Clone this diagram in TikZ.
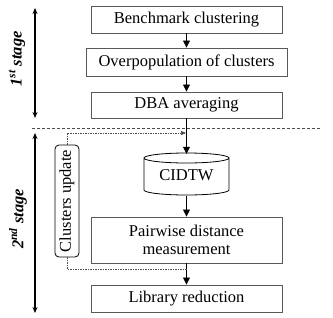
\documentclass[tikz,border=0pt]{standalone}
\usepackage{fontspec}
\setmainfont{Liberation Serif}
\usetikzlibrary{arrows.meta}
\begin{document}
\begin{tikzpicture}[x=1pt,y=-1pt,
  font=\fontsize{16.5}{18}\selectfont,
  procbox/.style={draw=black!65,line width=0.9pt,minimum width=191pt,minimum height=27pt,inner sep=0pt,align=center},
  flow/.style={line width=0.8pt,-{Triangle[length=7pt,width=7pt]}},
  stagearrow/.style={line width=1.4pt,{Stealth[length=6pt,width=5pt]}-{Stealth[length=6pt,width=5pt]}},
  loopline/.style={draw=black!70,line width=0.5pt,dash pattern=on 1.5pt off 1pt},
  stagelabel/.style={rotate=90,font=\fontsize{16.5}{18}\selectfont\bfseries\itshape,inner sep=0pt}]
\useasboundingbox (0,0) rectangle (333,317);
% stage separator
\coordinate (d1) at (32,128);
\coordinate (d2) at (320,128);
\draw[draw=black!70,line width=0.6pt,dash pattern=on 3pt off 2pt] (d1) -- (d2);
% boxes
\node[procbox] (b1) at (186.5,19.5) {Benchmark clustering};
\node[procbox,minimum width=201pt,minimum height=28pt] (b2) at (186.5,62) {Overpopulation of clusters};
\node[procbox,minimum height=26pt] (b3) at (186.5,105) {DBA averaging};
\node[minimum width=85pt,minimum height=42pt,inner sep=0pt] (cyl) at (186.5,175) {CIDTW};
\draw[draw=black,line width=0.8pt]
  (144,158) arc[start angle=180,end angle=360,x radius=42.5pt,y radius=5pt]
  arc[start angle=0,end angle=180,x radius=42.5pt,y radius=5pt]
  -- (144,190) arc[start angle=180,end angle=360,x radius=42.5pt,y radius=5pt]
  -- (229,158);
\node[procbox,minimum height=46pt] (b4) at (186.5,240) {Pairwise distance\\measurement};
\node[procbox] (b5) at (186.5,298.5) {Library reduction};
\node[draw=black,line width=0.8pt,rounded corners=4pt,rotate=90,minimum width=112pt,minimum height=24pt,inner sep=0pt] (clu) at (67,201) {Clusters update};
% main flow
\draw[flow] (b1.south) -- (b2.north);
\draw[flow] (b2.south) -- (b3.north);
\draw[flow] (b3.south) -- (cyl.north);
\draw[flow] (cyl.south) -- (b4.north);
\draw[flow] (b4.south) -- (b5.north);
% feedback loop
\coordinate (jt) at (186,133);
\coordinate (jb) at (187,269);
\draw[loopline,-{Triangle[length=5pt,width=4pt]}] (clu.east) |- (jt);
\draw[loopline] (clu.west) |- (jb);
% stage arrows
\coordinate (s1t) at (35,8);
\coordinate (s1b) at (35,118);
\coordinate (s2t) at (35,133);
\coordinate (s2b) at (35,313);
\draw[stagearrow] (s1t) -- (s1b);
\draw[stagearrow] (s2t) -- (s2b);
\node[stagelabel] (l1) at (17,59) {1\textsuperscript{st} stage};
\node[stagelabel] (l2) at (18,219) {2\textsuperscript{nd} stage};
\end{tikzpicture}
\end{document}
